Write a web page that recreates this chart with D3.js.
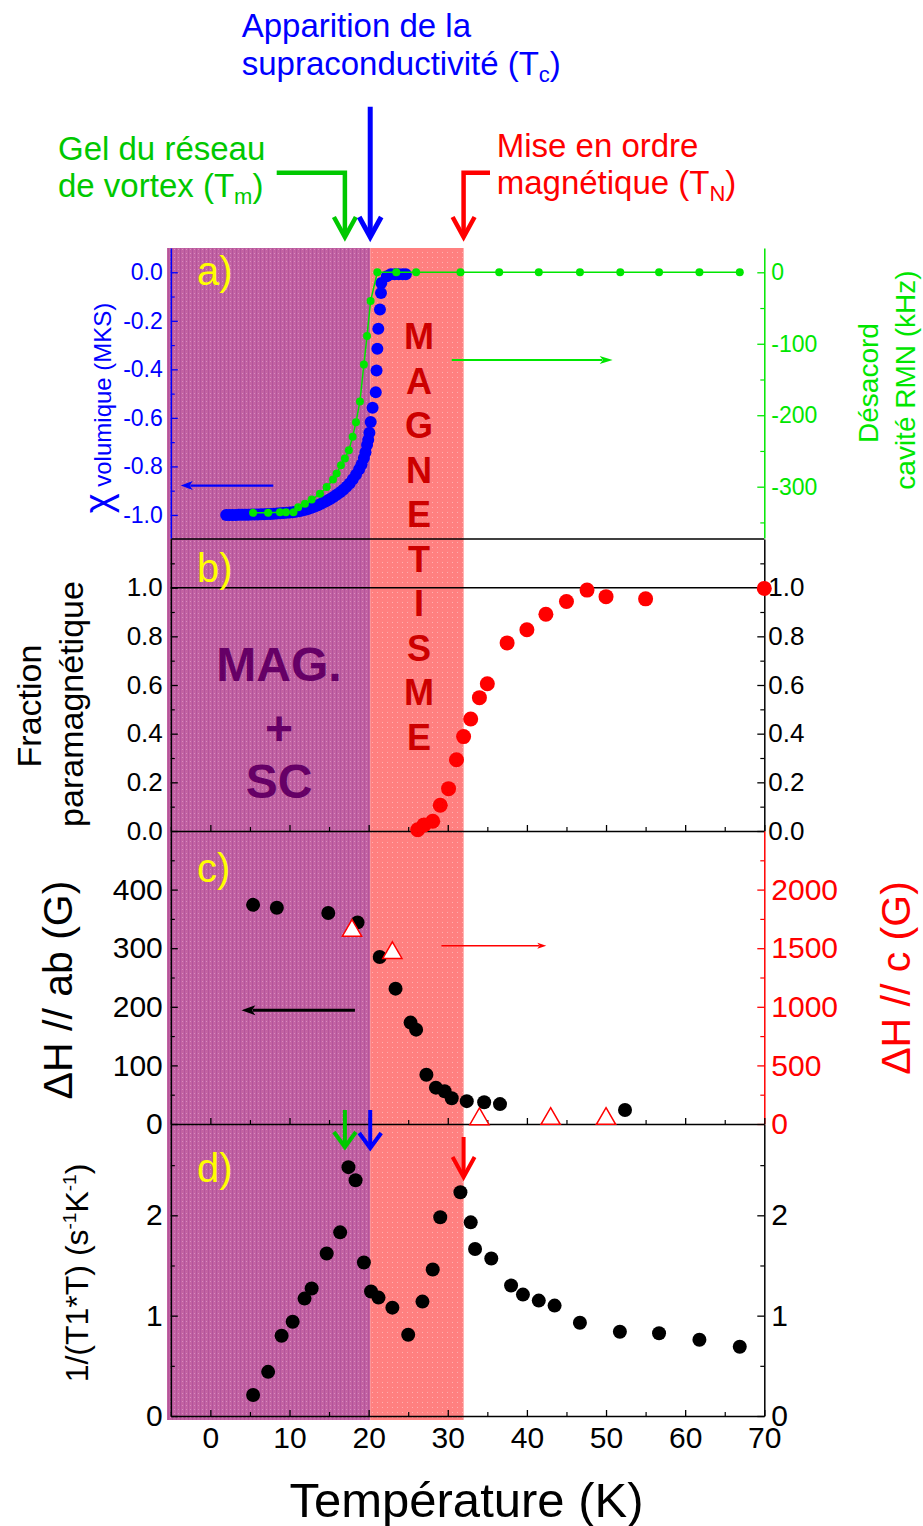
<!DOCTYPE html>
<html><head><meta charset="utf-8">
<script src="https://cdn.jsdelivr.net/npm/d3@7"></script>
<style>
body{margin:0;background:#fff}
svg{display:block}
text{font-family:'Liberation Sans',Arial,Helvetica,sans-serif}
</style>
</head><body>
<svg id="chart" width="923" height="1526"></svg>
<script>
// ---------------- DATA ----------------
const Tm = 17.0, Tc = 20.2, TN = 32.0;   // transition temperatures (K)

// a) susceptibility (MKS)
const chiT = [2.0,2.4,2.8,3.2,3.6,4.0,4.4,4.8,5.2,5.6,6.0,6.4,6.8,7.2,7.6,8.0,8.4,8.8,9.2,9.6,10.0,10.4,10.8,11.2,11.6,12.0,12.4,12.8,13.2,13.6,14.0,14.4,14.8,15.2,15.6,16.0,16.4,16.8,17.2,17.6,18.0,18.4,18.8,19.1,19.4,19.6,19.8,19.95,20.1,20.26,20.5,20.9,21.0,21.1,21.22,21.43,21.56,21.6,22.3,22.8,23.3,23.8,24.3,24.7];
const chiV = [-1.0,-1.0,-1.0,-1.0,-0.999,-0.999,-0.999,-0.999,-0.998,-0.998,-0.998,-0.997,-0.997,-0.996,-0.996,-0.995,-0.994,-0.993,-0.992,-0.991,-0.99,-0.989,-0.987,-0.985,-0.982,-0.979,-0.975,-0.97,-0.965,-0.96,-0.954,-0.947,-0.94,-0.933,-0.925,-0.916,-0.906,-0.896,-0.884,-0.87,-0.853,-0.834,-0.812,-0.792,-0.765,-0.742,-0.712,-0.69,-0.661,-0.617,-0.558,-0.494,-0.405,-0.315,-0.233,-0.153,-0.085,-0.044,-0.016,-0.008,-0.008,-0.008,-0.008,-0.008];

// a) NMR cavity detuning (kHz)
const nmrT = [5.4,7.3,8.8,9.55,10.5,11.1,11.95,12.8,13.85,14.7,15.5,15.96,16.5,17.0,17.5,17.98,18.4,18.9,19.4,19.8,20.25,21.1,23.5,26.0,31.6,36.5,41.5,46.7,51.8,56.7,61.8,66.9];
const nmrV = [-336.6,-336.6,-335.7,-335.7,-335.7,-328.7,-324,-318,-310,-300.5,-290,-281.7,-270,-260.6,-249,-230,-210,-180.8,-129,-89,-40,0,0,0,0,0,0,0,0,0,0,0];

// b) paramagnetic fraction
const paraT = [26.2,27.0,28.1,29.05,30.1,31.1,32.0,32.9,34.0,35.0,37.5,40.0,42.4,45.0,47.6,50.0,55.0,70.0];
const paraV = [0.005,0.025,0.04,0.106,0.174,0.293,0.388,0.46,0.548,0.605,0.773,0.827,0.891,0.943,0.99,0.963,0.954,0.997];

// c) linewidth H // ab (G)
const dHabT = [5.4,8.4,14.9,18.6,21.4,23.4,25.3,26.0,27.3,28.5,29.6,30.5,32.4,34.6,36.6,52.4];
const dHabV = [374,369,360,344,285,231,173,161,84,62,56,44,39,37,34,24];
// c) linewidth H // c (G)
const dHcT = [17.9,23.0,34.0,43.0,50.0];
const dHcV = [1650,1460,42,45,45];

// d) 1/(T1 T)
const t1T = [5.4,7.3,9.0,10.4,11.9,12.8,14.7,16.4,17.45,18.35,19.4,20.3,21.25,23.0,25.0,26.8,28.1,29.05,31.6,32.9,33.45,35.5,38.0,39.5,41.5,43.5,46.7,51.75,56.7,61.8,66.9];
const t1V = [0.21,0.44,0.80,0.94,1.17,1.27,1.62,1.83,2.48,2.35,1.53,1.24,1.18,1.08,0.81,1.14,1.46,1.98,2.23,1.93,1.665,1.57,1.30,1.21,1.15,1.10,0.93,0.84,0.825,0.76,0.69];

// ticks
const xMajor = [0,10,20,30,40,50,60,70];
const xMinor = [-5,5,15,25,35,45,55,65];
const aMajor = [0,-0.2,-0.4,-0.6,-0.8,-1.0], aMinor = [-0.1,-0.3,-0.5,-0.7,-0.9];
const gMajor = [0,-100,-200,-300], gMinor = [-50,-150,-250,-350];
const bMajor = [0,0.2,0.4,0.6,0.8,1.0], bMinor = [0.1,0.3,0.5,0.7,0.9,1.1];
const cMajor = [0,100,200,300,400], cMinor = [50,150,250,350,450];
const cRMajor = [0,500,1000,1500,2000], cRMinor = [250,750,1250,1750,2250];
const dMajor = [0,1,2], dMinor = [0.5,1.5,2.5];
const magLetters = ["M","A","G","N","E","T","I","S","M","E"];

// ---------------- LAYOUT ----------------
const FONT = "'Liberation Sans',Arial,Helvetica,sans-serif";
const X0 = 170.8, X1 = 764.3;
const svg = d3.select('#chart');
svg.append('rect').attr('width',923).attr('height',1526).attr('fill','#fff');

const x = d3.scaleLinear([-5,70],[X0,X1]);
const ya  = d3.scaleLinear([-1.095,0.1],[538,248]);
const yaG = d3.scaleLinear([-371.8,34.0],[538,248]);
const yb  = d3.scaleLinear([0,1.2],[831,539]);
const yc  = d3.scaleLinear([0,500],[1124,831]);
const ycR = d3.scaleLinear([0,2500],[1124,831]);
const yd  = d3.scaleLinear([0,2.91],[1416,1124]);

const GREEN = '#00e600', GREEN2 = '#00c800', BLUE = '#0000ff', RED = '#ff0000';

// patterns
const defs = svg.append('defs');
const pp = defs.append('pattern').attr('id','pur').attr('width',4).attr('height',4).attr('patternUnits','userSpaceOnUse');
pp.append('rect').attr('width',4).attr('height',4).attr('fill','#c262a2');
pp.append('rect').attr('width',1).attr('height',4).attr('fill','#b3549b');
pp.append('rect').attr('x',2).attr('y',1).attr('width',1).attr('height',1).attr('fill','#d88cc2');
const pk = defs.append('pattern').attr('id','pnk').attr('width',5).attr('height',5).attr('patternUnits','userSpaceOnUse');
pk.append('rect').attr('width',5).attr('height',5).attr('fill','#ff8080');
pk.append('rect').attr('x',2).attr('y',2).attr('width',1).attr('height',1).attr('fill','#ffb0b0');

// shaded regions
svg.append('rect').attr('x',167).attr('y',248).attr('width',x(Tc)-167).attr('height',1420-248).attr('fill','url(#pur)');
svg.append('rect').attr('x',x(Tc)).attr('y',248).attr('width',x(TN)-x(Tc)).attr('height',1420-248).attr('fill','url(#pnk)');

// ---------------- AXES ----------------
function yAxis(scale, side, majors, minors, color, fs, fmt, pad){
  const xp = side==='left'? X0 : X1;
  const mk = side==='left'? d3.axisLeft : d3.axisRight;
  const g = svg.append('g').attr('transform',`translate(${xp},0)`)
    .call(mk(scale).tickValues(majors).tickSizeInner(-7).tickSizeOuter(0).tickPadding(pad).tickFormat(fmt));
  g.select('.domain').attr('stroke',color).attr('stroke-width',1.5);
  g.selectAll('.tick line').attr('stroke',color).attr('stroke-width',1.3);
  g.selectAll('.tick text').attr('fill',color).attr('font-size',fs).attr('font-family',FONT);
  const g2 = svg.append('g').attr('transform',`translate(${xp},0)`)
    .call(mk(scale).tickValues(minors).tickSizeInner(-4).tickSizeOuter(0).tickFormat(''));
  g2.select('.domain').remove();
  g2.selectAll('.tick line').attr('stroke',color).attr('stroke-width',1.2);
}
function xAxis(yPos, labels){
  const g = svg.append('g').attr('transform',`translate(0,${yPos})`)
    .call(d3.axisBottom(x).tickValues(xMajor).tickSizeInner(-6).tickSizeOuter(0).tickPadding(11).tickFormat(labels? d=>String(d) : ''));
  g.select('.domain').attr('stroke','#000').attr('stroke-width',1.5);
  g.selectAll('.tick line').attr('stroke','#000').attr('stroke-width',1.3);
  g.selectAll('.tick text').attr('fill','#000').attr('font-size',30).attr('font-family',FONT);
  const g2 = svg.append('g').attr('transform',`translate(0,${yPos})`)
    .call(d3.axisBottom(x).tickValues(xMinor).tickSizeInner(-4).tickSizeOuter(0).tickFormat(''));
  g2.select('.domain').remove();
  g2.selectAll('.tick line').attr('stroke','#000').attr('stroke-width',1.2);
}
const f1 = v => v.toFixed(1);
const f0 = v => String(v);

// panel a bottom / panel b top
svg.append('line').attr('x1',X0).attr('x2',X1).attr('y1',539).attr('y2',539).attr('stroke','#000').attr('stroke-width',1.5);
yAxis(ya,'left',aMajor,aMinor,BLUE,23,f1,8);
yAxis(yaG,'right',gMajor,gMinor,GREEN,23,f0,7);
yAxis(yb,'left',bMajor,bMinor,'#000',26,f1,8);
yAxis(yb,'right',bMajor,bMinor,'#000',26,f1,4);
xAxis(831,false);
yAxis(yc,'left',cMajor,cMinor,'#000',30,f0,8);
yAxis(ycR,'right',cRMajor,cRMinor,RED,30,f0,7);
xAxis(1124,false);
yAxis(yd,'left',dMajor,dMinor,'#000',30,f0,8);
yAxis(yd,'right',dMajor,dMinor,'#000',30,f0,7);
xAxis(1416,true);

// reference line at 1.0 in panel b
svg.append('line').attr('x1',X0).attr('x2',X1).attr('y1',yb(1)).attr('y2',yb(1)).attr('stroke','#000').attr('stroke-width',1.5);

// ---------------- IN-PLOT TEXT ----------------
magLetters.forEach((L,i)=>{
  svg.append('text').attr('x',419).attr('y',336+i*44.5+13).attr('text-anchor','middle')
    .attr('font-size',36).attr('font-weight','bold').attr('fill','#cc0000').text(L);
});
[["MAG.",681],["+",745],["SC",798]].forEach(([t,yy])=>{
  svg.append('text').attr('x',279).attr('y',yy).attr('text-anchor','middle')
    .attr('font-size',48).attr('font-weight','bold').attr('fill','#660066').text(t);
});
[["a)",285],["b)",582],["c)",882],["d)",1182]].forEach(([t,yy])=>{
  svg.append('text').attr('x',197).attr('y',yy).attr('font-size',40).attr('fill','#ffff00').text(t);
});

// ---------------- DATA MARKS ----------------
// a) blue chi
svg.append('g').selectAll('circle').data(d3.zip(chiT,chiV)).join('circle')
  .attr('cx',d=>x(d[0])).attr('cy',d=>ya(d[1])).attr('r',6).attr('fill',BLUE);
// a) green NMR with line
const nmr = d3.zip(nmrT,nmrV);
svg.append('path').attr('d',d3.line(d=>x(d[0]),d=>yaG(d[1]))(nmr)).attr('fill','none').attr('stroke',GREEN).attr('stroke-width',1.5);
svg.append('g').selectAll('circle').data(nmr).join('circle')
  .attr('cx',d=>x(d[0])).attr('cy',d=>yaG(d[1])).attr('r',4).attr('fill',GREEN);
// b) red fraction
svg.append('g').selectAll('circle').data(d3.zip(paraT,paraV)).join('circle')
  .attr('cx',d=>x(d[0])).attr('cy',d=>yb(d[1])).attr('r',7.5).attr('fill',RED);
// c) black ab
svg.append('g').selectAll('circle').data(d3.zip(dHabT,dHabV)).join('circle')
  .attr('cx',d=>x(d[0])).attr('cy',d=>yc(d[1])).attr('r',7).attr('fill','#000');
// c) red triangles
svg.append('g').selectAll('path').data(d3.zip(dHcT,dHcV)).join('path')
  .attr('transform',d=>`translate(${x(d[0])},${ycR(d[1])})`)
  .attr('d',d3.symbol(d3.symbolTriangle,160)).attr('fill','#fff').attr('stroke',RED).attr('stroke-width',1.5);
// d) black 1/T1T
svg.append('g').selectAll('circle').data(d3.zip(t1T,t1V)).join('circle')
  .attr('cx',d=>x(d[0])).attr('cy',d=>yd(d[1])).attr('r',7).attr('fill','#000');

// ---------------- AXIS-POINTER ARROWS ----------------
function hArrow(x1,x2,y,color,w,hl,hw){
  const dir = Math.sign(x2-x1);
  svg.append('line').attr('x1',x1).attr('x2',x2-dir*hl*0.8).attr('y1',y).attr('y2',y).attr('stroke',color).attr('stroke-width',w);
  svg.append('path').attr('d',`M${x2},${y}L${x2-dir*hl},${y-hw/2}L${x2-dir*hl*0.75},${y}L${x2-dir*hl},${y+hw/2}Z`).attr('fill',color);
}
hArrow(x(7.95),x(-3.75),ya(-0.879),BLUE,2.2,12,9);
hArrow(x(30.5),x(50.84),yaG(-122.7),GREEN,2,13,8);
hArrow(x(29.2),x(42.45),yc(304),RED,1.5,9,6);
hArrow(x(18.27),x(3.92),yc(194),'#000',3,14,10);

// ---------------- TRANSITION ARROWS ----------------
function chevron(xc,tip,color,w,len){
  svg.append('path').attr('d',`M${xc-11},${tip-len}L${xc},${tip}L${xc+11},${tip-len}`)
    .attr('fill','none').attr('stroke',color).attr('stroke-width',w).attr('stroke-linejoin','miter');
}
// top
svg.append('path').attr('d',`M276.7,172.7H${x(Tm)}V235`).attr('fill','none').attr('stroke',GREEN2).attr('stroke-width',4.5);
chevron(x(Tm),237,GREEN2,4.5,20);
svg.append('path').attr('d',`M${x(Tc)},106.7V235`).attr('fill','none').attr('stroke',BLUE).attr('stroke-width',5);
chevron(x(Tc),237,BLUE,5,20);
svg.append('path').attr('d',`M490,172.7H${x(TN)}V235`).attr('fill','none').attr('stroke',RED).attr('stroke-width',4.5);
chevron(x(TN),237,RED,4.5,20);
// panel d
svg.append('path').attr('d',`M${x(Tm)},1110V1145`).attr('stroke',GREEN2).attr('stroke-width',4);
chevron(x(Tm),1147,GREEN2,4,15);
svg.append('path').attr('d',`M${x(Tc)},1110V1146`).attr('stroke',BLUE).attr('stroke-width',4);
chevron(x(Tc),1148,BLUE,4,15);
svg.append('path').attr('d',`M${x(TN)},1137V1175`).attr('stroke',RED).attr('stroke-width',4);
chevron(x(TN),1177,RED,4,20);

// ---------------- ANNOTATION TEXT ----------------
function label2(xp,y1,y2,l1,l2,sub,color){
  svg.append('text').attr('x',xp).attr('y',y1).attr('font-size',33).attr('fill',color).text(l1);
  const t = svg.append('text').attr('x',xp).attr('y',y2).attr('font-size',33).attr('fill',color);
  t.append('tspan').text(l2);
  t.append('tspan').attr('font-size',22).attr('dy',7).text(sub);
  t.append('tspan').attr('dy',-7).text(')');
}
label2(58,160,196.7,'Gel du réseau','de vortex (T','m',GREEN2);
label2(241.7,37.3,75,'Apparition de la','supraconductivité (T','c',BLUE);
label2(496.7,157.3,194,'Mise en ordre','magnétique (T','N',RED);

// ---------------- AXIS TITLES ----------------
function vtext(xp,yc0,fs,color,txt){
  return svg.append('text').attr('transform',`translate(${xp},${yc0}) rotate(-90)`).attr('text-anchor','middle')
    .attr('font-size',fs).attr('fill',color).text(txt);
}
{
  const t = svg.append('text').attr('transform','translate(111,408) rotate(-90)').attr('text-anchor','middle').attr('fill',BLUE);
  t.append('tspan').attr('font-size',38).text('χ');
  t.append('tspan').attr('font-size',24).text(' volumique (MKS)');
}
vtext(878,383,28,GREEN,'Désacord');
vtext(915,380,28,GREEN,'cavité RMN (kHz)');
vtext(41,706,34,'#000','Fraction');
vtext(83,704,34,'#000','paramagnétique');
vtext(72,990,41,'#000','ΔH // ab (G)');
vtext(910,978,41,RED,'ΔH // c (G)');
{
  const t = svg.append('text').attr('transform','translate(88,1273) rotate(-90)').attr('text-anchor','middle').attr('fill','#000');
  t.append('tspan').attr('font-size',32).text('1/(T1*T) (s');
  t.append('tspan').attr('font-size',19).attr('dy',-12).text('-1');
  t.append('tspan').attr('font-size',32).attr('dy',12).text('K');
  t.append('tspan').attr('font-size',19).attr('dy',-12).text('-1');
  t.append('tspan').attr('font-size',32).attr('dy',12).text(')');
}
svg.append('text').attr('x',466.5).attr('y',1517).attr('text-anchor','middle').attr('font-size',49).attr('fill','#000').text('Température (K)');
</script>
</body></html>
